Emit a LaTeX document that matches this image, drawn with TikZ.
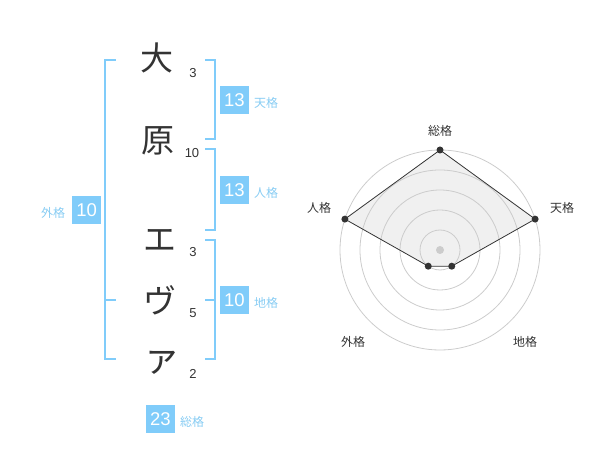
\documentclass[tikz,border=0pt]{standalone}
\usepackage{fontspec}
\setmainfont{Liberation Sans}
\newfontfamily\cjk{Noto Sans CJK JP}
\definecolor{boxblue}{RGB}{128,204,250}
\definecolor{lblblue}{RGB}{135,204,243}
\definecolor{txt}{RGB}{51,51,51}
\definecolor{ring}{RGB}{204,204,204}
\definecolor{polyfill}{RGB}{240,240,240}
\tikzset{
  kanji/.style={inner sep=0pt, text=txt, font=\cjk\fontsize{33}{33}\selectfont},
  strokes/.style={inner sep=0pt, text=txt, font=\fontsize{13}{13}\selectfont},
  kakubox/.style={fill=boxblue, text=white, minimum width=29pt, minimum height=28pt, inner sep=0pt, font=\fontsize{18.5}{18.5}\selectfont},
  kakulbl/.style={inner sep=0pt, text=lblblue, font=\cjk\fontsize{12}{12}\selectfont},
  bracket/.style={draw=boxblue, line width=2pt},
  radarlbl/.style={inner sep=0pt, text=txt, font=\cjk\fontsize{12}{12}\selectfont},
  dot/.style={circle, fill=txt, inner sep=0pt, minimum size=7pt},
}
\begin{document}
\begin{tikzpicture}[x=1pt,y=-1pt]
\useasboundingbox (0,0) rectangle (600,470);
% characters
\node[kanji] (c1) at (157,58) {大};
\node[kanji] (c2) at (158,141) {原};
\node[kanji] (c3) at (159.5,240) {エ};
\node[kanji] (c4) at (159.5,300) {ヴ};
\node[kanji, font=\cjk\fontsize{37}{37}\selectfont] (c5) at (162,363) {ァ};
% stroke counts
\node[strokes] (s1) at (193,73) {3};
\node[strokes] (s2) at (192,153) {10};
\node[strokes] (s3) at (193,252.5) {3};
\node[strokes] (s4) at (193,313.5) {5};
\node[strokes] (s5) at (193,373.5) {2};
% brackets
\draw[bracket] (115.7,60) -- (105,60) -- (105,359) -- (115.7,359);
\draw[bracket] (105,300) -- (115.7,300);
\draw[bracket] (205,60) -- (214.5,60) -- (214.5,139.5) -- (205,139.5);
\draw[bracket] (205,149.5) -- (214.5,149.5) -- (214.5,230) -- (205,230);
\draw[bracket] (205,240) -- (214.5,240) -- (214.5,359) -- (205,359);
\draw[bracket] (205,300) -- (214.5,300);
% boxes
\node[kakubox] (ten) at (234.5,100) {13};
\node[kakulbl, anchor=west] (tenl) at (254,103) {天格};
\node[kakubox] (jin) at (234.5,190) {13};
\node[kakulbl, anchor=west] (jinl) at (254,193) {人格};
\node[kakubox] (chi) at (234.5,300) {10};
\node[kakulbl, anchor=west] (chil) at (254,303) {地格};
\node[kakubox] (gai) at (86.7,210) {10};
\node[kakulbl] (gail) at (53,213) {外格};
\node[kakubox] (sou) at (160.5,419) {23};
\node[kakulbl] (soul) at (192,422) {総格};
% radar
\coordinate (o) at (440,250);
\coordinate (pSou) at (440,150);
\coordinate (pTen) at (535.1,219.1);
\coordinate (pChi) at (451.76,266.18);
\coordinate (pGai) at (428.24,266.18);
\coordinate (pJin) at (344.9,219.1);
\fill[polyfill] (pSou) -- (pTen) -- (pChi) -- (pGai) -- (pJin) -- cycle;
\foreach \r in {20,40,60,80,100} \draw[ring, line width=0.8pt] (o) circle (\r);
\draw[txt, line width=0.8pt] (pSou) -- (pTen) -- (pChi) -- (pGai) -- (pJin) -- cycle;
\node[circle, fill=ring, inner sep=0pt, minimum size=8pt] (center) at (o) {};
\foreach \p in {pSou,pTen,pChi,pGai,pJin} \node[dot] at (\p) {};
\node[radarlbl] (rSou) at (440,131) {総格};
\node[radarlbl] (rTen) at (562,208) {天格};
\node[radarlbl] (rChi) at (525,342) {地格};
\node[radarlbl] (rGai) at (353,342) {外格};
\node[radarlbl] (rJin) at (319,208) {人格};
\end{tikzpicture}
\end{document}
